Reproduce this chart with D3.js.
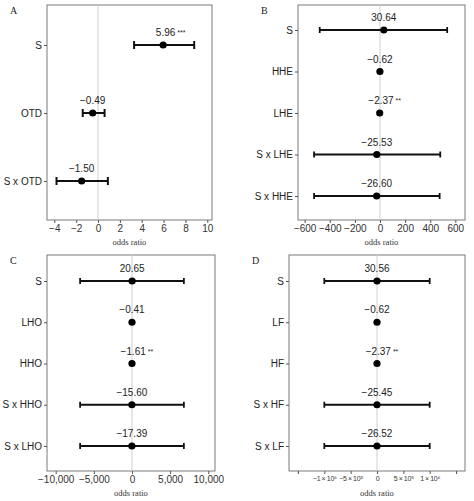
<!DOCTYPE html>
<html><head><meta charset="utf-8">
<script src="https://cdn.jsdelivr.net/npm/d3@7"></script>
<style>body{margin:0;background:#fff}</style></head>
<body><svg id="c" width="474" height="501"></svg>
<script>
// Panel A
const catsA = ["S","OTD","S x OTD"];
const estA = [5.96,-0.49,-1.50];
const loA = [3.3,-1.4,-3.8];
const hiA = [8.8,0.6,0.9];
const labA = ["5.96 ***","\u22120.49","\u22121.50"];
const ticksA = [-4,-2,0,2,4,6,8,10];
// Panel B
const catsB = ["S","HHE","LHE","S x LHE","S x HHE"];
const estB = [30.64,-0.62,-2.37,-25.53,-26.60];
const loB = [-480,null,null,-525,-525];
const hiB = [535,null,null,480,475];
const labB = ["30.64","\u22120.62","\u22122.37 **","\u221225.53","\u221226.60"];
const ticksB = [-600,-400,-200,0,200,400,600];
// Panel C
const catsC = ["S","LHO","HHO","S x HHO","S x LHO"];
const estC = [20.65,-0.41,-1.61,-15.60,-17.39];
const loC = [-6800,null,null,-6800,-6800];
const hiC = [6800,null,null,6800,6800];
const labC = ["20.65","\u22120.41","\u22121.61 **","\u221215.60","\u221217.39"];
const ticksC = [-10000,-5000,0,5000,10000];
// Panel D
const catsD = ["S","LF","HF","S x HF","S x LF"];
const estD = [30.56,-0.62,-2.37,-25.45,-26.52];
const loD = [-1e6,null,null,-1e6,-1e6];
const hiD = [1e6,null,null,1e6,1e6];
const labD = ["30.56","\u22120.62","\u22122.37 **","\u221225.45","\u221226.52"];
const ticksD = [-1.5e6,-1e6,-5e5,0,5e5,1e6,1.5e6];
const tickLabD = {"-1000000":"\u22121\u2009\u00d7\u200910\u2076","-500000":"\u22125\u2009\u00d7\u200910\u2075","0":"0","500000":"5\u2009\u00d7\u200910\u2075","1000000":"1\u2009\u00d7\u200910\u2076"};

const svg = d3.select("#c");
const sans = "Liberation Sans, Arial, sans-serif", serif = "Liberation Serif, Times New Roman, serif";

function panel(o){
  const g = svg.append("g");
  const x = d3.scaleLinear().domain(o.dom).range([o.x0,o.x1]);
  const y = d3.scalePoint().domain(o.cats).range([o.r0,o.r1]);
  g.append("text").attr("x",o.x0-37).attr("y",o.y0+9).text(o.letter)
   .attr("font-family",serif).attr("font-size",10).attr("fill","#222");
  g.append("rect").attr("x",o.x0).attr("y",o.y0).attr("width",o.x1-o.x0).attr("height",o.y1-o.y0)
   .attr("fill","#fff").attr("stroke","#7a7a7a").attr("stroke-width",1);
  g.append("line").attr("x1",x(0)).attr("x2",x(0)).attr("y1",o.y0).attr("y2",o.y1)
   .attr("stroke","#d0d0d0").attr("stroke-width",1);
  const ax = g.append("g").attr("transform",`translate(0,${o.y1})`)
   .call(d3.axisBottom(x).tickValues(o.ticks).tickSize(3).tickPadding(2).tickFormat(o.fmt));
  ax.select(".domain").remove();
  ax.selectAll("line").attr("stroke","#555");
  ax.selectAll("text").attr("font-family",sans).attr("font-size",o.tfs||10).attr("fill","#333")
    .attr("letter-spacing",o.ls||0);
  const ay = g.append("g").attr("transform",`translate(${o.x0},0)`)
   .call(d3.axisLeft(y).tickSize(3).tickPadding(2));
  ay.select(".domain").remove();
  ay.selectAll("line").attr("stroke","#555");
  ay.selectAll("text").attr("font-family",sans).attr("font-size",10).attr("fill","#222");
  g.append("text").attr("x",(o.x0+o.x1)/2).attr("y",o.y1+25).attr("text-anchor","middle")
   .text("odds ratio").attr("font-family",serif).attr("font-size",8.5).attr("fill","#333");
  o.cats.forEach((c,i)=>{
    const yy = y(c);
    if(o.lo[i]!=null){
      g.append("line").attr("x1",x(o.lo[i])).attr("x2",x(o.hi[i])).attr("y1",yy).attr("y2",yy)
       .attr("stroke","#111").attr("stroke-width",o.sw);
      [o.lo[i],o.hi[i]].forEach(v=>g.append("line").attr("x1",x(v)).attr("x2",x(v))
       .attr("y1",yy-o.cap).attr("y2",yy+o.cap).attr("stroke","#111").attr("stroke-width",o.sw));
    }
    g.append("circle").attr("cx",x(o.est[i])).attr("cy",yy).attr("r",3.6).attr("fill","#000");
    const t = g.append("text").attr("x",x(o.est[i])).attr("y",yy-9).attr("text-anchor","middle")
     .attr("font-family",sans).attr("font-size",10).attr("fill","#222");
    const m = o.lab[i].match(/^(\S+)( \*+)?$/);
    t.append("tspan").text(m[1]);
    if(m[2]) t.append("tspan").text(m[2]).attr("font-size",7).attr("dy",-1);
    if(m[2]) t.attr("x",x(o.est[i])+ (m[2].length-1)*2.5);
  });
}
panel({letter:"A",cats:catsA,est:estA,lo:loA,hi:hiA,lab:labA,ticks:ticksA,dom:[-4.67,10.43],
  x0:47,x1:212,y0:5,y1:220,r0:45,r1:181,sw:2,cap:4,fmt:d=>d3.format("d")(d).replace("-","\u2212")});
panel({letter:"B",cats:catsB,est:estB,lo:loB,hi:hiB,lab:labB,ticks:ticksB,dom:[-653,677],
  x0:298,x1:465,y0:5,y1:220,r0:30,r1:196,sw:1.8,cap:3,fmt:d=>d3.format("d")(d).replace("-","\u2212")});
panel({letter:"C",cats:catsC,est:estC,lo:loC,hi:hiC,lab:labC,ticks:ticksC,dom:[-11140,10880],
  x0:47,x1:215,y0:255,y1:471,r0:281,r1:446,sw:1.8,cap:3,fmt:d=>d3.format(",")(d).replace("-","\u2212")});
panel({letter:"D",cats:catsD,est:estD,lo:loD,hi:hiD,lab:labD,ticks:ticksD,dom:[-1.67e6,1.67e6],tfs:7,ls:-0.2,
  x0:289,x1:465,y0:255,y1:471,r0:281,r1:446,sw:1.8,cap:3,fmt:d=>tickLabD[String(d)]||""});
</script></body></html>
